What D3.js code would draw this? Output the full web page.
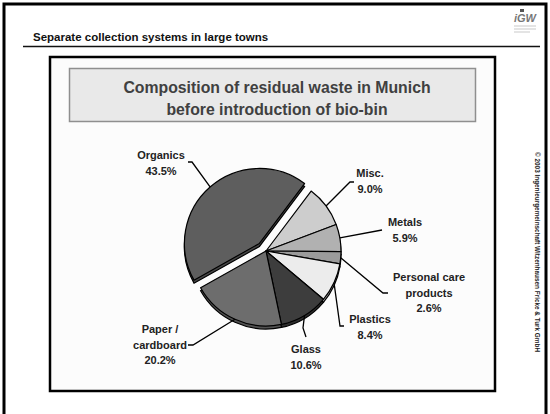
<!DOCTYPE html>
<html>
<head>
<meta charset="utf-8">
<script src="https://cdn.jsdelivr.net/npm/d3@7"></script>
<style>
  body { margin: 0; background: #fff; }
  svg { display: block; font-family: "Liberation Sans", Arial, sans-serif; }
</style>
</head>
<body>
<svg width="550" height="414"></svg>
<script>
// slice data, clockwise from the gap at upper right
var categories = ["Misc.", "Metals", "Personal care products", "Plastics", "Glass", "Paper / cardboard", "Organics"]
var shares = [9.0, 5.9, 2.6, 8.4, 10.6, 20.2, 43.5]
var labelLines = [["Misc.", "9.0%"], ["Metals", "5.9%"], ["Personal care", "products", "2.6%"],
                  ["Plastics", "8.4%"], ["Glass", "10.6%"], ["Paper /", "cardboard", "20.2%"], ["Organics", "43.5%"]]
var fills = ["#cdcdcd", "#b1b1b1", "#9b9b9b", "#ececec", "#3d3d3d", "#6d6d6d", "#5e5e5e"]

// label placement (annotation layout): text centre x, first baseline y, leader bend points
var labelPos = [
  {x: 370, y: 177, pts: [[350, 182], [354, 182]]},
  {x: 405, y: 226, pts: [[382, 230]]},
  {x: 429, y: 281, pts: [[383, 293], [388, 293]]},
  {x: 370, y: 323, pts: [[340, 326], [344, 326]]},
  {x: 306, y: 353, pts: [[303, 328], [306, 337]]},
  {x: 160, y: 333, pts: [[193, 345], [188, 345]]},
  {x: 161, y: 159, pts: [[192, 162], [188, 162]]}
]

var svg = d3.select("svg")

// slide border
svg.append("path")
  .attr("d", "M4,416 V4 H546 V416")
  .attr("fill", "none").attr("stroke", "#000").attr("stroke-width", 3)

// header
svg.append("text")
  .attr("x", 33).attr("y", 41)
  .attr("font-size", 11.5).attr("font-weight", "bold").attr("fill", "#111")
  .text("Separate collection systems in large towns")
svg.append("line")
  .attr("x1", 23).attr("x2", 540).attr("y1", 46.5).attr("y2", 46.5)
  .attr("stroke", "#111").attr("stroke-width", 1.6)

// logo
var logo = svg.append("g").attr("transform", "translate(514,8)")
logo.append("text").attr("x", 0).attr("y", 14)
  .attr("font-size", 11).attr("font-weight", "bold").attr("font-style", "italic")
  .attr("fill", "#777").text("iGW")
logo.append("rect").attr("x", 6).attr("y", 1).attr("width", 4).attr("height", 3).attr("fill", "#555")
;[18, 21, 24].forEach(function(y, i) {
  logo.append("line").attr("x1", 0).attr("x2", i == 2 ? 16 : 22).attr("y1", y).attr("y2", y)
    .attr("stroke", "#bbb").attr("stroke-width", 0.8)
})

// chart frame
svg.append("rect")
  .attr("x", 50).attr("y", 57).attr("width", 445).attr("height", 334)
  .attr("fill", "#fcfcfc").attr("stroke", "#000").attr("stroke-width", 2.5)

// title box
svg.append("rect")
  .attr("x", 69.5).attr("y", 68.5).attr("width", 406).attr("height", 53)
  .attr("fill", "#e9e9e9").attr("stroke", "#8f8f8f").attr("stroke-width", 1.5)
svg.append("text")
  .attr("text-anchor", "middle").attr("font-size", 15.8).attr("font-weight", "bold").attr("fill", "#404040")
  .selectAll("tspan")
  .data(["Composition of residual waste in Munich", "before introduction of bio-bin"])
  .join("tspan")
  .attr("x", 277).attr("y", (d, i) => 93 + i * 21.5)
  .text(d => d)

// copyright
svg.append("text")
  .attr("transform", "translate(535,152) rotate(90)")
  .attr("font-size", 7).attr("font-weight", "bold").attr("fill", "#222")
  .attr("textLength", 200).attr("lengthAdjust", "spacingAndGlyphs")
  .text("\u00a9 2003 Ingenieurgemeinschaft Witzenhausen Fricke & Turk GmbH")

// pie
var cx = 266, cy = 251, r = 75, depth = 3, explode = 10
var a0 = 37 * Math.PI / 180
var pie = d3.pie().sort(null).startAngle(a0).endAngle(a0 + 2 * Math.PI)
var arcs = pie(shares)
var arc = d3.arc().innerRadius(0).outerRadius(r)

function offset(d, i) {
  if (i != 6) return [0, 0]
  var m = (d.startAngle + d.endAngle) / 2
  return [explode * Math.sin(m), -explode * Math.cos(m)]
}

var g = svg.append("g").attr("transform", `translate(${cx},${cy})`)

// side (depth) layer
g.append("g").selectAll("path")
  .data(arcs)
  .join("path")
  .attr("transform", (d, i) => { var o = offset(d, i); return `translate(${o[0]},${o[1] + depth})` })
  .attr("d", arc)
  .attr("fill", (d, i) => d3.color(fills[i]).darker(0.8))
  .attr("stroke", "#000").attr("stroke-width", 1.2)

// top faces
g.append("g").selectAll("path")
  .data(arcs)
  .join("path")
  .attr("transform", (d, i) => { var o = offset(d, i); return `translate(${o[0]},${o[1]})` })
  .attr("d", arc)
  .attr("fill", (d, i) => fills[i])
  .attr("stroke", "#000").attr("stroke-width", 1.2).attr("stroke-linejoin", "round")

// leader lines
var lead = svg.append("g").attr("fill", "none").attr("stroke", "#000").attr("stroke-width", 1.3)
arcs.forEach(function(d, i) {
  var m = (d.startAngle + d.endAngle) / 2
  var o = offset(d, i)
  var start = [cx + o[0] + r * Math.sin(m), cy + o[1] - r * Math.cos(m)]
  lead.append("path").attr("d", d3.line()([start].concat(labelPos[i].pts)))
})

// labels
svg.append("g")
  .attr("text-anchor", "middle").attr("font-size", 11).attr("font-weight", "bold").attr("fill", "#222")
  .selectAll("text")
  .data(labelLines)
  .join("text")
  .selectAll("tspan")
  .data((d, i) => d.map(t => ({t: t, i: i})))
  .join("tspan")
  .attr("x", d => labelPos[d.i].x)
  .attr("y", (d, j) => labelPos[d.i].y + j * 15.5)
  .text(d => d.t)
</script>
</body>
</html>
